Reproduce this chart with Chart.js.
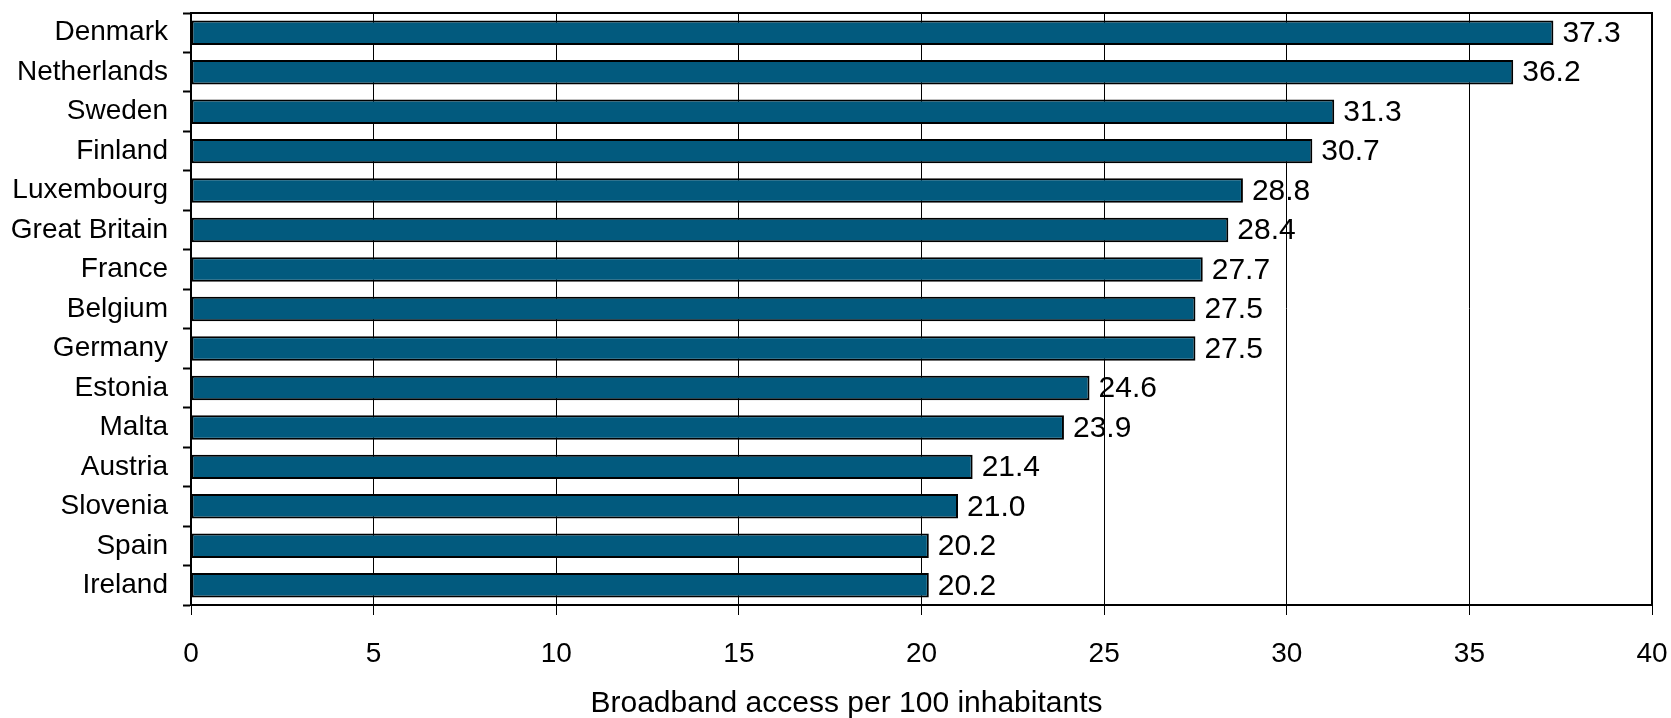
<!DOCTYPE html>
<html>
<head>
<meta charset="utf-8">
<script src="https://cdn.jsdelivr.net/npm/chart.js@4"></script>
<style>
  html, body { margin: 0; padding: 0; background: #fff; }
  #wrap { width: 1671px; height: 718px; }
</style>
</head>
<body>
<div id="wrap"><canvas id="bar-chart" width="1671" height="718"></canvas></div>
<script>
const countries = ['Denmark', 'Netherlands', 'Sweden', 'Finland', 'Luxembourg', 'Great Britain', 'France',
  'Belgium', 'Germany', 'Estonia', 'Malta', 'Austria', 'Slovenia', 'Spain', 'Ireland'];
const broadband = [37.3, 36.2, 31.3, 30.7, 28.8, 28.4, 27.7, 27.5, 27.5, 24.6, 23.9, 21.4, 21.0, 20.2, 20.2];
const xTicks = [0, 5, 10, 15, 20, 25, 30, 35, 40];
const axisTitle = 'Broadband access per 100 inhabitants';

const FONT = "'Liberation Sans', Arial, sans-serif";

// numbers at the end of each bar
const valueLabels = {
  id: 'valueLabels',
  afterDatasetsDraw(chart) {
    const ctx = chart.ctx;
    const meta = chart.getDatasetMeta(0);
    ctx.save();
    ctx.font = '30px ' + FONT;
    ctx.fillStyle = '#000';
    ctx.textAlign = 'left';
    ctx.textBaseline = 'middle';
    meta.data.forEach((bar, i) => {
      ctx.fillText(broadband[i].toFixed(1), bar.x + 9, bar.y + 1);
    });
    ctx.restore();
  }
};

// frame round the plot area + axis title (sits a bit left of the plot centre)
const plotFrame = {
  id: 'plotFrame',
  afterDraw(chart) {
    const a = chart.chartArea;
    const ctx = chart.ctx;
    ctx.save();
    ctx.strokeStyle = '#000';
    ctx.lineWidth = 2;
    ctx.strokeRect(a.left, a.top, a.right - a.left, a.bottom - a.top);
    ctx.font = '30px ' + FONT;
    ctx.fillStyle = '#000';
    ctx.textAlign = 'center';
    ctx.textBaseline = 'alphabetic';
    ctx.fillText(axisTitle, (a.left + a.right) / 2 - 75, 712);
    ctx.restore();
  }
};

new Chart(document.getElementById('bar-chart'), {
  type: 'bar',
  data: {
    labels: countries,
    datasets: [{
      data: broadband,
      backgroundColor: '#025a7e',
      borderColor: '#000',
      borderWidth: 2,
      borderSkipped: false,
      barPercentage: 0.62,
      categoryPercentage: 1
    }]
  },
  options: {
    indexAxis: 'y',
    responsive: false,
    devicePixelRatio: 1,
    animation: false,
    layout: { padding: { left: 0, right: 19, top: 13, bottom: 0 } },
    plugins: {
      legend: { display: false },
      tooltip: { enabled: false }
    },
    scales: {
      x: {
        min: 0,
        max: 40,
        afterBuildTicks(scale) {
          scale.ticks = xTicks.map(v => ({ value: v }));
        },
        afterFit(scale) {
          scale.height = 113;
          scale.paddingLeft = 0;
          scale.paddingRight = 0;
        },
        border: { color: '#000', width: 2 },
        grid: { color: '#000', lineWidth: 1, tickLength: 10, tickColor: '#000' },
        ticks: { color: '#000', font: { family: FONT, size: 28 }, padding: 22, maxRotation: 0 }
      },
      y: {
        afterFit(scale) {
          scale.width = 191;
          scale.paddingTop = 0;
          scale.paddingBottom = 0;
        },
        border: { color: '#000', width: 2 },
        grid: { drawOnChartArea: false, drawTicks: true, tickLength: 8, tickWidth: 2, tickColor: '#000', offset: true },
        ticks: { color: '#000', font: { family: FONT, size: 28 }, padding: 15 }
      }
    }
  },
  plugins: [valueLabels, plotFrame]
});
</script>
</body>
</html>
